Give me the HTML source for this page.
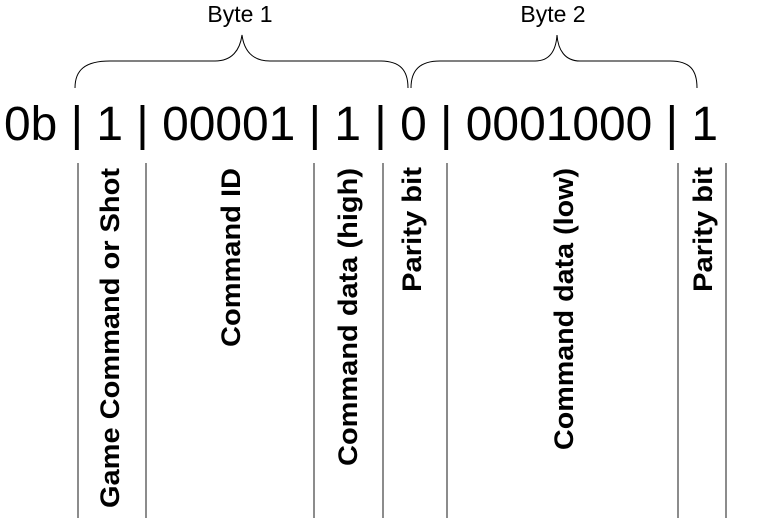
<!DOCTYPE html>
<html><head><meta charset="utf-8"><style>
html,body{margin:0;padding:0;background:#fff;width:764px;height:522px;overflow:hidden}
svg{display:block}
text{font-family:"Liberation Sans",sans-serif;fill:#000}
.lab{font-weight:bold;font-size:27px}
</style></head><body>
<svg width="764" height="522" viewBox="0 0 764 522">
  <text x="240" y="22" font-size="23" text-anchor="middle">Byte 1</text>
  <text x="553" y="22" font-size="23" text-anchor="middle">Byte 2</text>
  <path d="M75,88 C75,70 85,61 110,61 L215,61 C232,61 240,50 242,35 C244,50 252,61 270,61 L380,61 C400,61 408,70 408,88" fill="none" stroke="#000" stroke-width="1"/>
  <path d="M411,88 C411,70 420,61 440,61 L535,61 C550,61 556,50 557,35 C558,50 565,61 580,61 L670,61 C690,61 697,70 697,88" fill="none" stroke="#000" stroke-width="1"/>
  <text x="4" y="140" font-size="48" textLength="714" lengthAdjust="spacingAndGlyphs">0b | 1 | 00001 | 1 | 0 | 0001000 | 1</text>
  <g stroke="#666" stroke-width="1.5">
    <line x1="78" y1="163" x2="78" y2="518"/>
    <line x1="146" y1="163" x2="146" y2="518"/>
    <line x1="314" y1="163" x2="314" y2="518"/>
    <line x1="383" y1="163" x2="383" y2="518"/>
    <line x1="447" y1="163" x2="447" y2="518"/>
    <line x1="678" y1="163" x2="678" y2="518"/>
    <line x1="726" y1="163" x2="726" y2="518"/>
  </g>
  <text class="lab" transform="translate(119,508) rotate(-90)" textLength="340" lengthAdjust="spacingAndGlyphs">Game Command or Shot</text>
  <text class="lab" transform="translate(240,347) rotate(-90)" textLength="179" lengthAdjust="spacingAndGlyphs">Command ID</text>
  <text class="lab" transform="translate(357,466) rotate(-90)" textLength="298" lengthAdjust="spacingAndGlyphs">Command data (high)</text>
  <text class="lab" transform="translate(421,292) rotate(-90)" textLength="125" lengthAdjust="spacingAndGlyphs">Parity bit</text>
  <text class="lab" transform="translate(573,450) rotate(-90)" textLength="282" lengthAdjust="spacingAndGlyphs">Command data (low)</text>
  <text class="lab" transform="translate(712,292) rotate(-90)" textLength="125" lengthAdjust="spacingAndGlyphs">Parity bit</text>
</svg>
</body></html>
